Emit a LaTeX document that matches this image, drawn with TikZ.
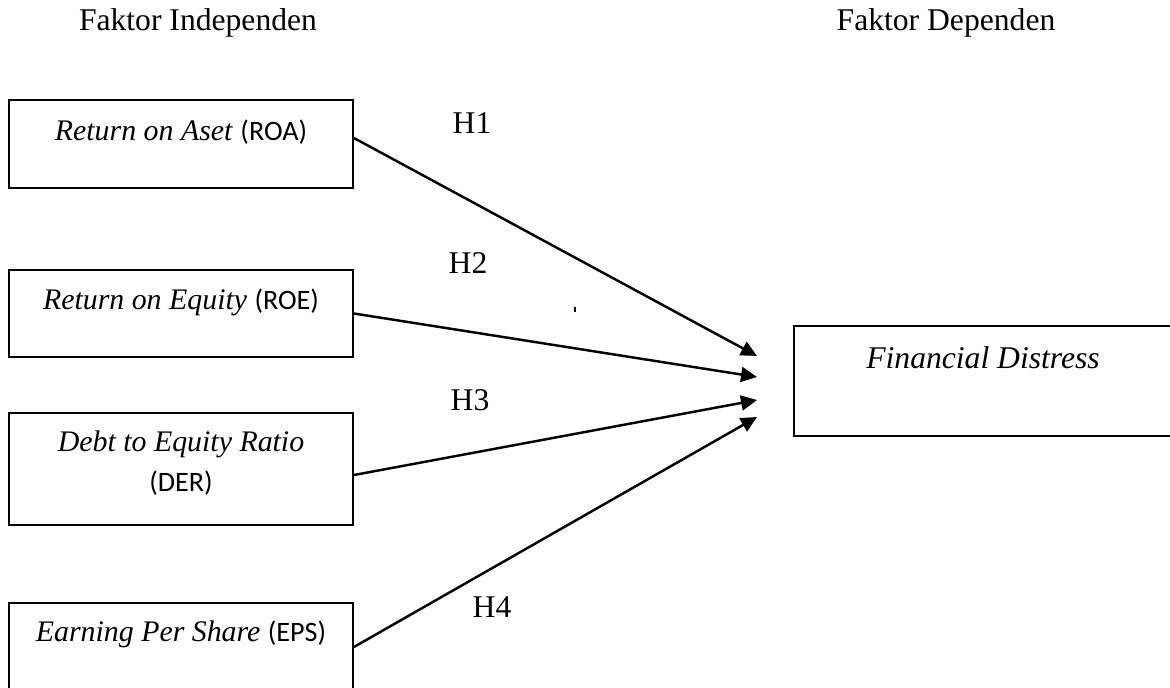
\documentclass[tikz,border=0pt]{standalone}
\usepackage{fontspec}
\setmainfont{Liberation Serif}
\newfontfamily\calibrifont{Carlito}
\usepackage{tikz}
\usetikzlibrary{arrows.meta,positioning,calc}
\newcommand{\abbr}[1]{{\calibrifont\fontsize{16}{23}\selectfont(#1)}}

\begin{document}
\begin{tikzpicture}[x=0.02cm, y=-0.02cm,
  font=\fontsize{18}{23}\selectfont,
  factorbox/.style={draw, line width=1.1pt, minimum width=6.88cm, inner sep=0pt},
  boxtext/.style={align=center, inner sep=0pt, font=\fontsize{17}{23}\selectfont},
  hyp/.style={inner sep=0pt},
  link/.style={line width=1.4pt, -{Triangle[length=0.32cm, width=0.3cm]}}]
\useasboundingbox (0,0) rectangle (1170,687);
% ---------------- headings ----------------
\node (indep) at (198,23) {Faktor Independen};
\node (dep) at (946,23) {Faktor Dependen};
% ---------------- independent factors ----------------
\node[factorbox, minimum height=1.76cm] (roa) at (181,144) {};
\node[boxtext] (roatext) at (181,132) {\textit{Return on Aset} \abbr{ROA}};
\node[factorbox, minimum height=1.74cm] (roe) at (181,313.5) {};
\node[boxtext] (roetext) at (181,302) {\textit{Return on Equity} \abbr{ROE}};
\node[factorbox, minimum height=2.24cm] (der) at (181,469) {};
\node[boxtext] (dertext) at (181,463) {\textit{Debt to Equity Ratio}\\\abbr{DER}};
\node[factorbox, minimum height=1.94cm] (eps) at (181,651.5) {};
\node[boxtext] (epstext) at (181,634) {\textit{Earning Per Share} \abbr{EPS}};
% ---------------- dependent factor ----------------
\node[draw, line width=1.1pt, minimum width=7.72cm, minimum height=2.2cm,
  inner sep=0pt] (fd) at (987,381) {};
\node[boxtext, font=\fontsize{18}{23}\selectfont] (fdtext) at (983,358) {\textit{Financial Distress}};
% ---------------- hypotheses ----------------
\coordinate (in1) at (757,356);
\coordinate (in2) at (757,377);
\coordinate (in3) at (757,400);
\coordinate (in4) at (757,417);
\draw[link] ([yshift=0.12cm]roa.east) -- (in1);
\draw[link] (roe.east) -- (in2);
\draw[link] ([yshift=-0.12cm]der.east) -- (in3);
\draw[link] ([yshift=0.09cm]eps.east) -- (in4);
\node[hyp] (h1) at (472,123) {H1};
\node[hyp] (h2) at (468,263) {H2};
\node[hyp] (h3) at (470,400) {H3};
\node[hyp] (h4) at (492,607) {H4};
\draw[line width=1.4pt] (575,307) -- (575,312);
\end{tikzpicture}
\end{document}
